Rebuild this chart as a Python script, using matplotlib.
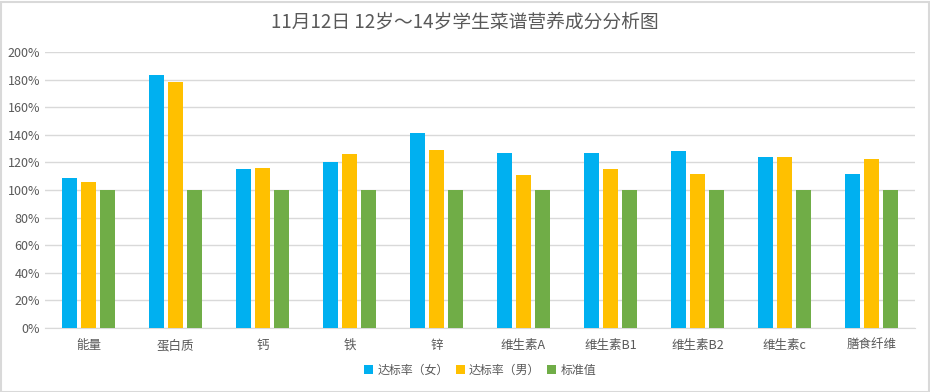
import numpy as np
import matplotlib
matplotlib.use("Agg")
import matplotlib.pyplot as plt
from matplotlib.ticker import PercentFormatter

plt.rcParams['font.family'] = ['Noto Sans CJK SC', 'DejaVu Sans']

categories = ["能量", "蛋白质", "钙", "铁", "锌", "维生素A", "维生素B1", "维生素B2", "维生素c", "膳食纤维"]
girls = [109, 183, 115.5, 120.5, 141.5, 127, 127, 128.5, 124, 111.7]
boys = [106, 178, 116.3, 126.2, 129, 111, 115.4, 111.7, 124, 122.6]
standard = [100, 100, 100, 100, 100, 100, 100, 100, 100, 100]
series_names = ["达标率（女）", "达标率（男）", "标准值"]
colors = ["#00b0f0", "#ffc000", "#70ad47"]

fig = plt.figure(figsize=(9.3, 3.92), dpi=100)
ax = fig.add_axes([45/930, 64/392, 870/930, 276/392])

x = np.arange(len(categories))
w = 0.175
step = 0.222
for i, (vals, name, c) in enumerate(zip([girls, boys, standard], series_names, colors)):
    ax.bar(x + (i - 1) * step, vals, width=w, color=c, label=name, zorder=3)

ax.set_xlim(-0.5, len(categories) - 0.5)
ax.set_ylim(0, 200)
ax.set_yticks(np.arange(0, 201, 20))
ax.yaxis.set_major_formatter(PercentFormatter(decimals=0))
ax.set_xticks(x)
ax.set_xticklabels(categories)
ax.grid(axis='y', color='#d9d9d9', lw=1, zorder=0)
for s in ['top', 'right', 'left']:
    ax.spines[s].set_visible(False)
ax.spines['bottom'].set_color('#d9d9d9')
ax.tick_params(axis='both', length=0, colors='#595959', labelsize=9)
ax.tick_params(axis='x', pad=8)

fig.text(0.5, 0.945, "11月12日 12岁～14岁学生菜谱营养成分分析图", ha='center', va='center',
         fontsize=13.5, color='#595959')

ax.legend(loc='upper center', bbox_to_anchor=(0.5, -0.09), ncol=3, frameon=False,
          fontsize=8.6, labelcolor='#595959', handlelength=0.75, handleheight=0.75,
          handletextpad=0.35, columnspacing=0.6)

fig.patches.append(plt.Rectangle((0.5/930, 0.5/392), 928/930, 390/392, transform=fig.transFigure,
                                 fill=False, edgecolor='#d9d9d9', lw=1.5))

fig.savefig("out.png", dpi=100)
